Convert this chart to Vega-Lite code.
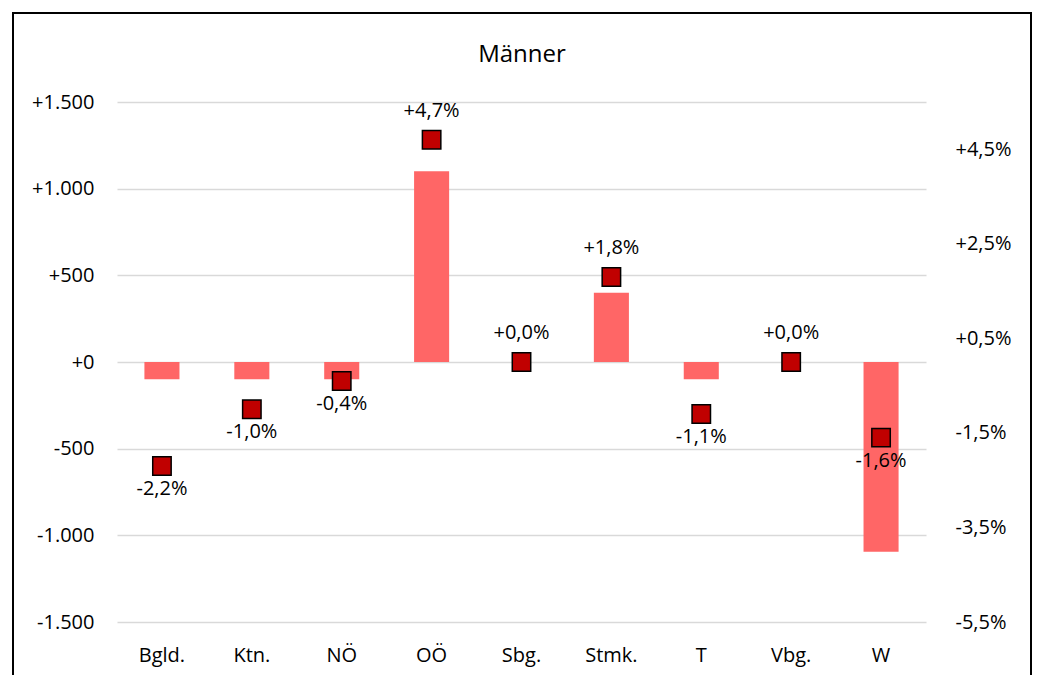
{
  "$schema": "https://vega.github.io/schema/vega-lite/v6.json",
  "width": 1018,
  "height": 700,
  "autosize": {"type": "none"},
  "padding": {"left": 13, "top": 13, "right": 12, "bottom": 0},
  "title": {"text": "Männer", "fontSize": 24, "font": "Open Sans", "fontWeight": "normal", "color": "#000000", "anchor": "middle", "offset": -54},
  "data": {
    "values": [
      {"region": "Bgld.", "abs": -100, "pct": -2.2, "label": "-2,2%"},
      {"region": "Ktn.", "abs": -100, "pct": -1.0, "label": "-1,0%"},
      {"region": "NÖ", "abs": -100, "pct": -0.4, "label": "-0,4%"},
      {"region": "OÖ", "abs": 1100, "pct": 4.7, "label": "+4,7%"},
      {"region": "Sbg.", "abs": 0, "pct": 0.0, "label": "+0,0%"},
      {"region": "Stmk.", "abs": 400, "pct": 1.8, "label": "+1,8%"},
      {"region": "T", "abs": -100, "pct": -1.1, "label": "-1,1%"},
      {"region": "Vbg.", "abs": 0, "pct": 0.0, "label": "+0,0%"},
      {"region": "W", "abs": -1095, "pct": -1.6, "label": "-1,6%"}
    ]
  },
  "layer": [
    {
      "mark": {"type": "bar", "color": "#FF6666"},
      "encoding": {
        "x": {
          "field": "region", "type": "nominal", "sort": null,
          "scale": {"range": [104, 913], "paddingInner": 0.61, "paddingOuter": 0.305},
          "axis": {"orient": "bottom", "offset": -91, "title": null, "domain": false, "ticks": false, "tickSize": 0, "labelPadding": 23, "labelAngle": 0, "grid": false}
        },
        "y": {
          "field": "abs", "type": "quantitative",
          "scale": {"domain": [-1500, 1500], "range": [609, 89], "nice": false, "zero": true},
          "axis": {
            "orient": "left", "offset": -104, "title": null,
            "values": [-1500, -1000, -500, 0, 500, 1000, 1500],
            "labelExpr": "(datum.value < 0 ? '-' : '+') + replace(format(abs(datum.value), ','), ',', '.')",
            "domain": false, "ticks": false, "tickSize": 0, "labelPadding": 23,
            "grid": true, "gridColor": "#D9D9D9", "gridWidth": 1.3
          }
        }
      }
    },
    {
      "encoding": {
        "x": {"field": "region", "type": "nominal", "sort": null},
        "y": {
          "field": "pct", "type": "quantitative",
          "scale": {"domain": [-5.5, 5.5], "range": [609, 89], "nice": false},
          "axis": {
            "orient": "right", "offset": -105, "title": null,
            "values": [-5.5, -3.5, -1.5, 0.5, 2.5, 4.5],
            "labelExpr": "(datum.value < 0 ? '-' : '+') + replace(format(abs(datum.value), '.1f'), '.', ',') + '%'",
            "domain": false, "ticks": false, "tickSize": 0, "labelPadding": 29, "grid": false
          }
        }
      },
      "layer": [
        {
          "mark": {"type": "point", "shape": "square", "filled": true, "color": "#C00000", "stroke": "#000000", "strokeWidth": 1.5, "size": 340, "opacity": 1}
        },
        {
          "transform": [{"filter": "datum.pct >= 0"}],
          "mark": {"type": "text", "dy": -29, "fontSize": 20, "font": "Open Sans", "color": "#000000"},
          "encoding": {"text": {"field": "label"}}
        },
        {
          "transform": [{"filter": "datum.pct < 0"}],
          "mark": {"type": "text", "dy": 23, "fontSize": 20, "font": "Open Sans", "color": "#000000"},
          "encoding": {"text": {"field": "label"}}
        }
      ]
    }
  ],
  "resolve": {"scale": {"y": "independent"}},
  "config": {
    "view": {"stroke": "#000000", "strokeWidth": 2},
    "axis": {"labelFont": "Open Sans", "labelFontSize": 20, "labelColor": "#000000"},
    "text": {"font": "Open Sans"}
  }
}
